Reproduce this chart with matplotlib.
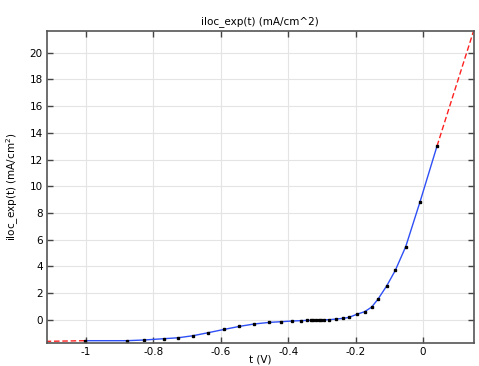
import matplotlib
matplotlib.use("Agg")
import matplotlib.pyplot as plt

# Data points
t_pts = [-1.003, -0.879, -0.829, -0.768, -0.726, -0.683, -0.637, -0.591,
         -0.545, -0.501, -0.456, -0.422, -0.390, -0.363, -0.343, -0.332,
         -0.326, -0.318, -0.309, -0.302, -0.294, -0.278, -0.259, -0.238,
         -0.220, -0.197, -0.173, -0.152, -0.133, -0.107, -0.082, -0.051,
         -0.009, 0.042]
i_pts = [-1.57, -1.57, -1.52, -1.42, -1.35, -1.20, -0.97, -0.73,
         -0.50, -0.32, -0.20, -0.15, -0.10, -0.07, -0.05, -0.05,
         -0.04, -0.03, -0.02, -0.01, 0.0, 0.0, 0.05, 0.10,
         0.17, 0.40, 0.60, 0.95, 1.55, 2.55, 3.69, 5.47,
         8.79, 13.01]

# Linear extrapolation segments
t_left = [-1.12, -1.003]
i_left = [-1.62, -1.57]
t_right = [0.042, 0.152]
i_right = [13.01, 21.75]

xticks = [-1, -0.8, -0.6, -0.4, -0.2, 0]
xticklabels = ["-1", "-0.8", "-0.6", "-0.4", "-0.2", "0"]
yticks = [0, 2, 4, 6, 8, 10, 12, 14, 16, 18, 20]

fig = plt.figure(figsize=(4.79, 3.66), dpi=100)
ax = fig.add_axes([0.0981, 0.0637, 0.8909, 0.8523])

ax.plot(t_left, i_left, color="#ff2020", lw=1, ls=(0, (4, 2)))
ax.plot(t_right, i_right, color="#ff2020", lw=1, ls=(0, (4, 2)))
ax.plot(t_pts, i_pts, color="#2e4ff5", lw=1)
ax.plot(t_pts, i_pts, ls="none", marker="s", ms=1.6, color="black")

ax.set_xlim(-1.116, 0.151)
ax.set_ylim(-1.72, 21.65)
ax.set_xticks(xticks)
ax.set_xticklabels(xticklabels)
ax.set_yticks(yticks)

ax.grid(True, color="#e4e4e4", lw=0.8)
ax.set_axisbelow(True)
ax.tick_params(direction="in", top=True, right=True, length=4, width=1,
               labelsize=7.5, color="#444444", pad=3)
for s in ax.spines.values():
    s.set_color("#555555")
    s.set_linewidth(1.2)

ax.set_title("iloc_exp(t) (mA/cm^2)", fontsize=7.5, pad=5)
ax.set_xlabel("t (V)", fontsize=7.5, va="center")
ax.xaxis.set_label_coords(0.5, -0.053)
ax.set_ylabel("iloc_exp(t) (mA/cm$^2$)", fontsize=7.5, labelpad=6)

fig.savefig("out.png", dpi=100)
